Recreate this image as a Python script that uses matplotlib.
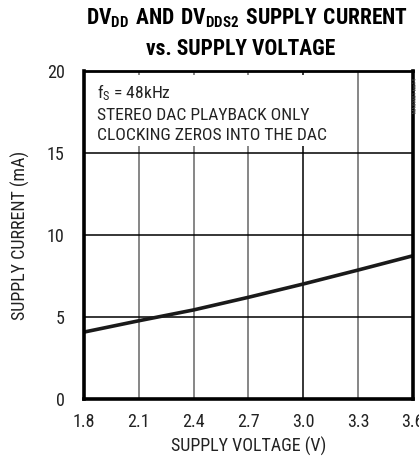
import numpy as np
import matplotlib
matplotlib.use('Agg')
import matplotlib.pyplot as plt

plt.rcParams['font.family'] = ['Roboto Condensed', 'DejaVu Sans']
plt.rcParams['mathtext.fontset'] = 'custom'
plt.rcParams['mathtext.rm'] = 'Roboto Condensed'
plt.rcParams['mathtext.bf'] = 'Roboto Condensed:black'

# supply voltage (V) vs DVDD + DVDDS2 supply current (mA)
voltage = [1.8, 2.1, 2.4, 2.7, 3.0, 3.3, 3.6]
current = [4.05, 4.74, 5.40, 6.17, 6.98, 7.83, 8.70]

x_ticks = [1.8, 2.1, 2.4, 2.7, 3.0, 3.3, 3.6]
x_labels = ['1.8', '2.1', '2.4', '2.7', '3.0', '3.3', '3.6']
y_ticks = [0, 5, 10, 15, 20]

fig = plt.figure(figsize=(4.19, 4.60), dpi=100)
ax = fig.add_axes([84 / 419, 1 - 399.5 / 460, (412.7 - 84) / 419, (399.5 - 71.5) / 460])

ax.set_xlim(1.8, 3.6)
ax.set_ylim(0, 20)

# grid
for xv in x_ticks[1:-1]:
    c = 'black' if xv == 3.0 else '#666666'
    ax.axvline(xv, color=c, lw=1.1, zorder=1)
for yv in y_ticks[1:-1]:
    ax.axhline(yv, color='black', lw=1.1, zorder=1)

ax.plot(voltage, current, color='#1a1a1a', lw=2.6, zorder=3)

ax.set_xticks(x_ticks)
ax.set_xticklabels(x_labels)
ax.set_yticks(y_ticks)
ax.tick_params(length=0, labelsize=13, pad=10, colors='#222222')
ax.tick_params(axis='y', pad=14)

for side in ['left', 'bottom', 'right']:
    ax.spines[side].set_linewidth(2.6)
ax.spines['top'].set_linewidth(2.0)
for s in ax.spines.values():
    s.set_zorder(5)

ax.set_xlabel('SUPPLY VOLTAGE (V)', fontsize=13, labelpad=4, color='#222222')
ax.set_ylabel('SUPPLY CURRENT (mA)', fontsize=13, labelpad=12, color='#222222')

ax.text(0.04, 0.968,
        '$\\mathrm{f_S}$ = 48kHz\nSTEREO DAC PLAYBACK ONLY\nCLOCKING ZEROS INTO THE DAC',
        transform=ax.transAxes, va='top', ha='left', fontsize=12.6,
        linespacing=1.42, color='#222222', zorder=4,
        bbox=dict(facecolor='white', edgecolor='none', pad=3))

fig.text(0.59, 0.985, r'$\mathbf{DV_{DD}\ AND\ DV_{DDS2}\ SUPPLY\ CURRENT}$',
         ha='center', va='top', fontsize=15.5)
fig.text(0.575, 0.918, 'vs. SUPPLY VOLTAGE', ha='center', va='top',
         fontsize=15.5, fontweight='black')

fig.text(0.997, 0.83, 'MAX9851 toc14', rotation=90, ha='right', va='top',
         fontsize=4, color='#555555')

fig.savefig('out.png', dpi=100)
